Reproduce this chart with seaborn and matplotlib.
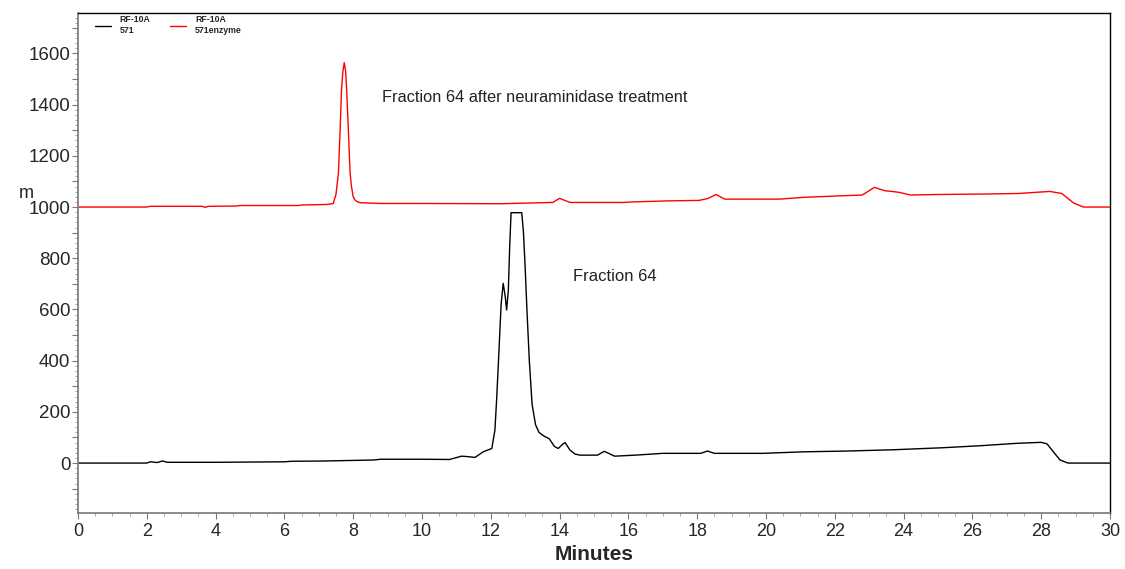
import numpy as np
import pandas as pd
import matplotlib
matplotlib.use("Agg")
import matplotlib.pyplot as plt
from matplotlib.ticker import MultipleLocator, FuncFormatter
import seaborn as sns

# ---- data ----
t_571 = [0, 2.0, 2.1, 2.3, 2.45, 2.6, 2.8, 4.0, 6.0, 6.2, 7.1, 8.6, 8.8, 10.0, 10.8,
         11.15, 11.35, 11.54, 11.78, 12.03, 12.12, 12.17, 12.22, 12.3, 12.36, 12.42,
         12.46, 12.51, 12.55, 12.59, 12.9, 12.95, 13.0, 13.05, 13.12, 13.2, 13.3, 13.4,
         13.55, 13.7, 13.85, 13.96, 14.1, 14.16, 14.3, 14.45, 14.6, 15.1, 15.3, 15.6,
         16.2, 17.0, 18.1, 18.3, 18.5, 19.9, 21.1, 22.35, 23.7, 25.15, 26.26, 27.27,
         28.0, 28.17, 28.39, 28.55, 28.78, 30.0]
y_571 = [0, 0, 5, 2, 8, 3, 3, 3, 5, 7, 8, 12, 15, 15, 14,
         27, 25, 22, 44, 57, 129, 250, 389, 620, 702, 650,
         598, 676, 850, 978, 978, 900, 760, 600, 400, 230, 150, 120,
         105, 95, 65, 57, 75, 80, 51, 35, 31, 31, 46, 27,
         31, 38, 38, 47, 38, 38, 44, 47, 52, 60, 68, 77,
         81, 75, 38, 12, 0, 0]

t_571enz = [0, 2.0, 2.1, 3.6, 3.7, 3.8, 4.6, 4.7, 6.4, 6.5, 7.2, 7.35, 7.42, 7.5,
            7.57, 7.62, 7.66, 7.7, 7.74, 7.78, 7.81, 7.86, 7.91, 7.95, 8.0, 8.05,
            8.1, 8.2, 8.8, 10.0, 12.27, 13.8, 14.0, 14.3,
            15.86, 16.1, 17.1, 18.05, 18.3, 18.55, 18.8, 20.4, 21.1, 22.2, 22.8,
            23.15, 23.45, 23.85, 24.2, 24.95, 26.4, 27.33, 28.25, 28.6, 28.94,
            29.23, 30.0]
y_571enz = [1000, 1000, 1003, 1003, 999, 1003, 1004, 1006, 1006, 1008, 1010, 1012, 1014, 1050,
            1132, 1300, 1457, 1530, 1564, 1530, 1457, 1300, 1132, 1080, 1040, 1028,
            1022, 1017, 1014, 1014, 1013, 1018, 1034, 1018,
            1018, 1020, 1024, 1026, 1033, 1049, 1031, 1031, 1038, 1044, 1047,
            1077, 1064, 1058, 1047, 1049, 1051, 1053, 1061, 1053, 1016,
            1000, 1000]

series_names = ["RF-10A\n571", "RF-10A\n571enzyme"]
series_colors = ["black", "red"]
x_ticks = list(range(0, 31, 2))

df = pd.concat([
    pd.DataFrame({"Minutes": t_571, "m": y_571, "series": series_names[0]}),
    pd.DataFrame({"Minutes": t_571enz, "m": y_571enz, "series": series_names[1]}),
], ignore_index=True)

sns.set_theme(style="white")
plt.rcParams["font.family"] = ["Liberation Sans", "DejaVu Sans"]

fig = plt.figure(figsize=(11.25, 5.69), dpi=100)
ax = fig.add_axes([78/1125, 1 - 513/569, (1110-78)/1125, 500/569])

sns.lineplot(data=df, x="Minutes", y="m", hue="series", palette=series_colors,
             hue_order=series_names, sort=False, estimator=None, linewidth=1.0,
             ax=ax)

ax.set_xlim(0, 30)
ax.set_ylim(-195, 1758)
ax.set_xticks(x_ticks)
ax.xaxis.set_minor_locator(MultipleLocator(0.5))
ax.yaxis.set_major_locator(MultipleLocator(100))
ax.yaxis.set_major_formatter(FuncFormatter(lambda v, p: f"{int(round(v))}" if int(round(v)) % 200 == 0 else ""))
ax.yaxis.set_minor_locator(MultipleLocator(20))

for lab in ax.get_xticklabels():
    lab.set_fontsize(13)
for lab in ax.get_yticklabels():
    lab.set_fontsize(13.5)

ax.tick_params(axis="y", which="major", direction="out", length=4, width=0.8,
               color="#777777", pad=1.5, left=True)
ax.tick_params(axis="x", which="major", direction="out", length=4, width=0.8,
               color="#777777", pad=3, bottom=True)
ax.tick_params(axis="both", which="minor", direction="out", length=2, width=0.6,
               color="#999999", left=True, bottom=True)

for side in ["top", "right"]:
    ax.spines[side].set_color("black")
    ax.spines[side].set_linewidth(1.0)
for side in ["left", "bottom"]:
    ax.spines[side].set_color("#777777")
    ax.spines[side].set_linewidth(1.2)

ax.set_xlabel("Minutes", fontsize=15, fontweight="bold", labelpad=4)
ax.set_ylabel("")
ax.text(-0.057, 0.64, "m", transform=ax.transAxes, fontsize=13, ha="left", va="center")

ax.text(8.84, 1426, "Fraction 64 after neuraminidase treatment", fontsize=11.8,
        ha="left", va="center", color="#222222")
ax.text(14.4, 730, "Fraction 64", fontsize=12, ha="left",
        va="center", color="#222222")

leg = ax.legend(loc="upper left", ncol=2, frameon=False,
                prop={"weight": "bold", "size": 6.3}, handlelength=1.8,
                columnspacing=2.3, bbox_to_anchor=(0.013, 1.003), handletextpad=1.0,
                borderaxespad=0.0)
for txt in leg.get_texts():
    txt.set_linespacing(1.35)

fig.savefig("out.png", dpi=100)
